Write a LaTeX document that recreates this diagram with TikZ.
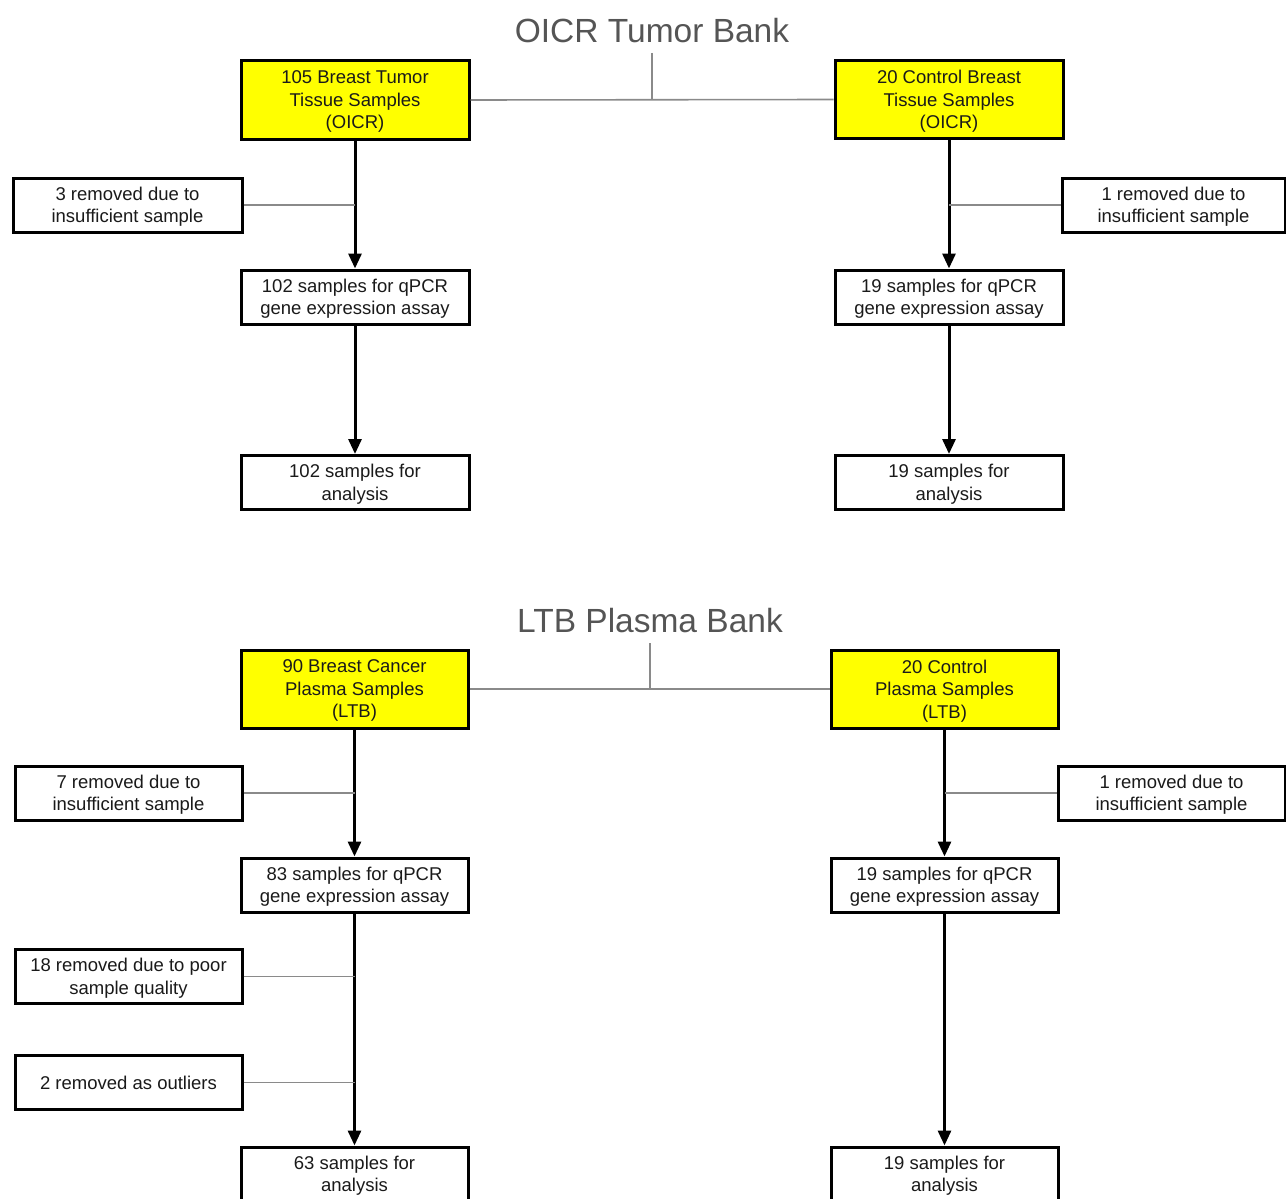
\documentclass[tikz,border=0pt]{standalone}
\usepackage{fontspec}
\setmainfont{Liberation Sans}
\usetikzlibrary{arrows.meta}
\definecolor{boxyellow}{HTML}{FFFF00}
\definecolor{titlegray}{HTML}{555555}
\definecolor{linegray}{HTML}{8A8A8A}
\definecolor{txt}{HTML}{1A1A1A}
\tikzset{
  base/.style={draw=black, line width=3pt, align=center, text=txt,
    font=\fontsize{18.5}{22.5}\selectfont, inner sep=0pt, minimum height=54pt,
    text depth=0pt},
  wbox/.style={base, fill=white, minimum width=228pt},
  ybox/.style={base, fill=boxyellow, minimum width=228pt, minimum height=78pt},
  rbox/.style={base, fill=white},
  flow/.style={line width=3pt, -{Triangle[width=13pt,length=15pt]}},
  side/.style={draw=linegray, line width=1.6pt},
  title/.style={text=titlegray, font=\fontsize{33.5}{36}\selectfont, inner sep=0pt}
}
\begin{document}
\begin{tikzpicture}[x=1pt,y=-1pt]
\useasboundingbox (0,0) rectangle (1286,1199);
\clip (0,0) rectangle (1286,1199);
% ===== OICR =====
\node[title] (t1) at (652,31) {OICR Tumor Bank};
\node[ybox] (a1) at (355,100) {105 Breast Tumor\\Tissue Samples\\(OICR)};
\node[ybox] (b1) at (949,99.5) {20 Control Breast\\Tissue Samples\\(OICR)};
\coordinate (t1j) at (652,53);
\draw[side] (a1.east) -- (b1.west);
\draw[side] (t1j) -- (t1j |- a1.east);
\node[rbox, minimum width=229pt] (ar) at (127.5,205) {3 removed due to\\insufficient sample};
\node[wbox] (a2) at (355,297) {102 samples for qPCR\\gene expression assay};
\node[wbox] (a3) at (355,482.5) {102 samples for\\analysis};
\draw[flow] (a1) -- (a2);
\draw[flow] (a2) -- (a3);
\draw[side] (ar.east) -- (ar.east -| a1.south);
\node[rbox, minimum width=223pt] (br) at (1173.5,205) {1 removed due to\\insufficient sample};
\node[wbox] (b2) at (949,297) {19 samples for qPCR\\gene expression assay};
\node[wbox] (b3) at (949,482.5) {19 samples for\\analysis};
\draw[flow] (b1) -- (b2);
\draw[flow] (b2) -- (b3);
\draw[side] (br.west) -- (br.west -| b1.south);
% ===== LTB =====
\node[title] (t2) at (650,621) {LTB Plasma Bank};
\node[ybox, minimum width=227pt] (c1) at (354.5,689) {90 Breast Cancer\\Plasma Samples\\(LTB)};
\node[ybox, minimum width=227pt] (d1) at (944.5,689) {20 Control\\Plasma Samples\\(LTB)};
\coordinate (t2j) at (650,643);
\draw[side] (c1.east) -- (d1.west);
\draw[side] (t2j) -- (t2j |- c1.east);
\node[rbox, minimum width=227pt] (cr) at (128.5,793) {7 removed due to\\insufficient sample};
\node[wbox, minimum width=227pt] (c2) at (354.5,885) {83 samples for qPCR\\gene expression assay};
\node[rbox, minimum width=227pt] (cr2) at (128.5,976.5) {18 removed due to poor\\sample quality};
\node[rbox, minimum width=227pt] (cr3) at (128.5,1082.5) {2 removed as outliers};
\node[wbox, minimum width=227pt] (c3) at (354.5,1174) {63 samples for\\analysis};
\draw[flow] (c1) -- (c2);
\draw[flow] (c2) -- (c3);
\draw[side] (cr.east) -- (cr.east -| c1.south);
\draw[side] (cr2.east) -- (cr2.east -| c2.south);
\draw[side] (cr3.east) -- (cr3.east -| c2.south);
\node[rbox, minimum width=227pt] (dr) at (1171.5,793) {1 removed due to\\insufficient sample};
\node[wbox, minimum width=227pt] (d2) at (944.5,885) {19 samples for qPCR\\gene expression assay};
\node[wbox, minimum width=227pt] (d3) at (944.5,1174) {19 samples for\\analysis};
\draw[flow] (d1) -- (d2);
\draw[flow] (d2) -- (d3);
\draw[side] (dr.west) -- (dr.west -| d1.south);
\end{tikzpicture}
\end{document}
